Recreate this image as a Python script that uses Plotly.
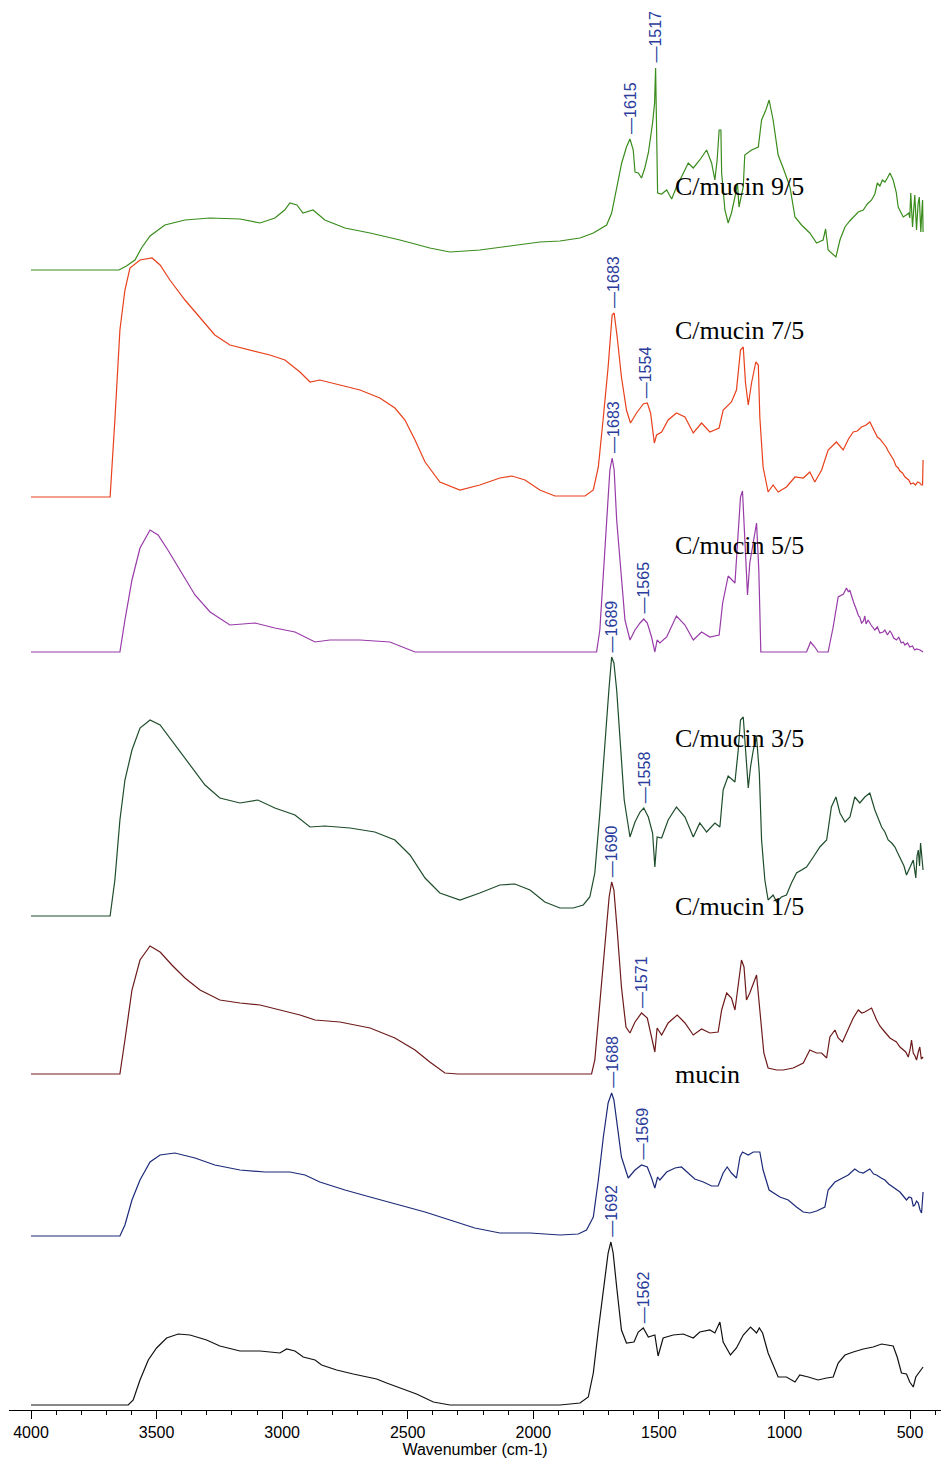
import numpy as np
import plotly.graph_objects as go

# ---------------- data (wavenumber cm-1, relative absorbance height) ----------------
names = ["C/mucin 9/5", "C/mucin 7/5", "C/mucin 5/5", "C/mucin 3/5", "C/mucin 1/5", "mucin", ""]
offsets = [1140, 913, 758, 494, 336, 174, 5]
colors = ["#3a8c1c", "#e8401a", "#983aa8", "#1e4d2b", "#6e1a1a", "#1c2a78", "#111111"]

wn_95 = [4000, 3650, 3620, 3586, 3560, 3526, 3467, 3387, 3287, 3168, 3088, 3029, 2990, 2969, 2941, 2917, 2877, 2830,
         2750, 2650, 2531, 2412, 2332, 2213, 2093, 1974, 1894, 1814, 1761, 1708, 1688, 1668, 1648, 1629, 1615, 1602,
         1595, 1582, 1569, 1556, 1542, 1525, 1517, 1513, 1509, 1505, 1489, 1469, 1449, 1430, 1410, 1383, 1363, 1337,
         1310, 1290, 1277, 1268, 1260, 1253, 1250, 1237, 1224, 1211, 1197, 1187, 1181, 1171, 1164, 1158, 1131, 1104,
         1091, 1074, 1061, 1045, 1025, 1005, 978, 958, 932, 899, 872, 846, 836, 826, 813, 795, 779, 759, 740, 726, 706,
         686, 670, 653, 640, 630, 620, 610, 600, 590, 580, 567, 555, 547, 537, 527, 515, 505, 501, 497, 490, 486, 481,
         474, 468, 463, 457, 452, 450, 448]
h_95 = [0, 0, 4, 10, 22, 34, 45, 50, 52, 51, 47, 52, 60, 67, 65, 57, 60, 50,
        42, 37, 30, 22, 18, 20, 24, 28, 29, 32, 37, 45, 57, 83, 107, 123, 131, 120,
        98, 97, 92, 102, 117, 147, 167, 202, 150, 77, 76, 80, 71, 83, 93, 107, 102, 110,
        120, 107, 90, 110, 140, 140, 97, 60, 47, 57, 73, 87, 63, 73, 83, 115, 120, 123,
        150, 160, 170, 150, 115, 102, 83, 53, 45, 37, 27, 30, 41, 20, 17, 13, 30, 43, 49, 53, 58,
        60, 66, 70, 76, 87, 84, 90, 88, 92, 97, 90, 78, 63, 58, 53, 55, 57, 52, 77, 43, 60, 75,
        40, 66, 73, 38, 62, 70, 38]

wn_75 = [4000, 3685, 3666, 3646, 3626, 3606, 3566, 3518, 3486, 3447, 3387, 3327, 3268, 3208, 3128, 3049, 2989, 2929,
         2889, 2850, 2770, 2690, 2611, 2551, 2511, 2471, 2431, 2372, 2292, 2213, 2133, 2085, 2033, 1974, 1914, 1894,
         1794, 1761, 1741, 1721, 1702, 1686, 1678, 1666, 1649, 1629, 1613, 1589, 1562, 1546, 1533, 1518, 1509, 1489,
         1463, 1430, 1396, 1363, 1330, 1297, 1260, 1244, 1211, 1191, 1175, 1164, 1155, 1144, 1131, 1114, 1104, 1098,
         1085, 1065, 1045, 1025, 992, 958, 925, 899, 879, 852, 826, 793, 766, 745, 726, 710, 693, 675, 660, 650, 640,
         630, 620, 607, 595, 587, 574, 565, 556, 547, 540, 530, 520, 514, 505, 497, 487, 478, 470, 461, 455, 450, 448]
h_75 = [0, 0, 77, 167, 207, 229, 237, 239, 232, 217, 197, 179, 162, 152, 147, 142, 137, 125,
        115, 117, 112, 107, 99, 89, 77, 57, 35, 15, 7, 12, 19, 21, 17, 7, 1, 1,
        1, 7, 30, 80, 130, 182, 184, 160, 120, 87, 74, 84, 93, 94, 84, 54, 62, 65,
        77, 84, 80, 64, 74, 65, 69, 87, 95, 107, 147, 150, 114, 92, 114, 135, 132, 80,
        30, 5, 12, 5, 10, 20, 19, 25, 15, 27, 47, 55, 47, 58, 65, 66, 70, 72, 75, 70, 65,
        60, 58, 54, 50, 46, 40, 37, 31, 29, 26, 24, 20, 19, 17, 13, 14, 12, 15, 14, 12, 12, 37]

wn_55 = [4000, 3646, 3626, 3598, 3566, 3526, 3494, 3455, 3407, 3347, 3287, 3208, 3108, 3029, 2949, 2869, 2810, 2690,
         2571, 2471, 1894, 1748, 1735, 1715, 1702, 1695, 1686, 1678, 1668, 1652, 1635, 1615, 1595, 1575, 1560, 1546,
         1529, 1516, 1507, 1496, 1469, 1430, 1396, 1363, 1330, 1297, 1260, 1246, 1224, 1197, 1184, 1175, 1167, 1158,
         1147, 1138, 1124, 1111, 1102, 1094, 912, 896, 879, 866, 826, 806, 786, 765, 753, 745, 740, 733, 725, 713,
         705, 700, 693, 685, 680, 675, 667, 655, 640, 630, 620, 607, 600, 590, 580, 574, 565, 554, 545, 535, 527, 520,
         510, 501, 490, 482, 474, 460, 448]
h_55 = [0, 0, 32, 72, 104, 122, 117, 102, 82, 57, 40, 27, 29, 24, 20, 10, 12, 12,
        10, 0, 0, 0, 22, 99, 155, 182, 194, 182, 132, 82, 32, 12, 22, 29, 33, 29,
        15, 0, 12, 9, 15, 36, 27, 12, 20, 15, 17, 49, 76, 69, 115, 155, 161, 115,
        57, 89, 109, 129, 82, 0, 0, 10, 5, 0, 0, 25, 55, 58, 64, 60, 62, 55, 50, 42,
        36, 35, 29, 31, 36, 28, 32, 27, 22, 25, 19, 20, 22, 17, 21, 19, 14, 12, 15, 9, 10, 7,
        9, 5, 6, 2, 3, 2, 0]

wn_35 = [4000, 3685, 3666, 3646, 3626, 3598, 3566, 3526, 3486, 3427, 3367, 3307, 3248, 3168, 3097, 3029, 2949, 2889,
         2830, 2730, 2631, 2551, 2491, 2431, 2372, 2292, 2213, 2133, 2073, 2013, 1954, 1894, 1841, 1801, 1775, 1755,
         1735, 1715, 1699, 1688, 1679, 1668, 1655, 1638, 1615, 1595, 1575, 1560, 1542, 1525, 1516, 1507, 1489, 1463,
         1430, 1396, 1363, 1337, 1310, 1277, 1257, 1244, 1224, 1197, 1184, 1175, 1164, 1155, 1144, 1135, 1124, 1111,
         1100, 1091, 1078, 1065, 1045, 1031, 1012, 992, 972, 952, 912, 885, 859, 832, 813, 795, 779, 759, 739, 720,
         700, 680, 660, 640, 625, 613, 600, 587, 573, 560, 547, 534, 524, 514, 501, 487, 477, 472, 467, 462, 458, 452, 448]
h_35 = [0, 0, 36, 96, 136, 166, 188, 196, 191, 171, 151, 131, 118, 113, 116, 108, 101, 89,
        90, 88, 84, 76, 61, 38, 23, 16, 23, 31, 32, 26, 14, 8, 8, 11, 19, 43,
        103, 176, 226, 259, 253, 226, 176, 116, 79, 94, 104, 108, 99, 83, 49, 79, 78, 96,
        109, 99, 79, 93, 84, 93, 89, 126, 140, 134, 166, 196, 199, 169, 128, 149, 166, 179,
        143, 76, 36, 16, 21, 14, 19, 21, 33, 43, 49, 59, 69, 76, 109, 119, 103, 94, 99, 119,
        113, 119, 123, 106, 97, 89, 84, 76, 73, 69, 62, 56, 50, 41, 49, 56, 38, 60, 66, 50, 73, 55, 46]

wn_15 = [4000, 3646, 3626, 3598, 3566, 3526, 3486, 3439, 3387, 3327, 3248, 3168, 3088, 3009, 2929, 2869, 2770, 2650,
         2551, 2471, 2412, 2352, 2300, 1894, 1768, 1755, 1735, 1715, 1698, 1688, 1679, 1666, 1649, 1631, 1615, 1595,
         1569, 1546, 1529, 1516, 1507, 1489, 1463, 1427, 1396, 1363, 1330, 1297, 1264, 1250, 1230, 1211, 1197, 1184,
         1171, 1161, 1151, 1138, 1124, 1111, 1098, 1082, 1065, 1031, 1005, 965, 925, 899, 872, 852, 832, 819, 799,
         786, 769, 753, 726, 706, 692, 680, 667, 653, 633, 620, 607, 593, 580, 567, 554, 540, 527, 517, 507, 500, 494,
         487, 480, 474, 467, 461, 455, 448]
h_15 = [0, 0, 34, 84, 114, 128, 122, 109, 96, 84, 74, 71, 69, 64, 59, 54, 52, 46,
        36, 24, 12, 1, 0, 0, 0, 14, 71, 131, 177, 192, 184, 144, 87, 47, 41, 52,
        61, 56, 37, 22, 46, 39, 51, 59, 51, 39, 45, 41, 42, 64, 81, 76, 64, 91,
        114, 107, 74, 81, 91, 99, 64, 21, 6, 4, 4, 6, 11, 24, 21, 21, 16, 37, 44,
        36, 32, 41, 56, 64, 61, 62, 64, 66, 54, 48, 44, 40, 36, 34, 32, 27, 24, 22, 17, 24, 34,
        21, 18, 14, 22, 27, 15, 17]

wn_mu = [4000, 3646, 3626, 3598, 3566, 3526, 3486, 3427, 3347, 3268, 3168, 3068, 2969, 2909, 2850, 2750, 2650, 2531,
         2431, 2332, 2233, 2133, 2013, 1894, 1821, 1788, 1761, 1741, 1721, 1702, 1688, 1679, 1666, 1649, 1622, 1595,
         1569, 1546, 1529, 1516, 1505, 1496, 1469, 1436, 1410, 1383, 1357, 1323, 1290, 1264, 1244, 1228, 1211, 1191,
         1177, 1167, 1144, 1124, 1098, 1085, 1061, 1018, 985, 952, 925, 899, 872, 839, 826, 799, 766, 746, 720, 703,
         686, 673, 660, 645, 633, 615, 600, 585, 567, 553, 540, 527, 514, 504, 494, 487, 481, 474, 467, 460, 454, 448]
h_mu = [0, 0, 11, 36, 56, 74, 81, 83, 78, 71, 66, 64, 64, 61, 54, 46, 39, 31,
        24, 16, 8, 3, 3, 1, 2, 6, 19, 56, 99, 133, 143, 136, 113, 79, 58, 66,
        71, 69, 58, 48, 59, 56, 64, 68, 69, 63, 57, 54, 50, 50, 63, 69, 63, 58,
        79, 84, 81, 84, 84, 66, 46, 39, 36, 29, 24, 23, 25, 29, 46, 54, 58, 61, 67, 64,
        63, 65, 67, 62, 61, 58, 56, 52, 49, 46, 44, 40, 36, 39, 38, 30, 31, 35, 33, 26, 23, 44]

wn_c = [4000, 3613, 3593, 3566, 3533, 3500, 3460, 3414, 3367, 3301, 3248, 3168, 3088, 3009, 2982, 2949, 2916, 2869,
        2843, 2783, 2717, 2624, 2584, 2531, 2465, 2398, 2332, 1894, 1814, 1781, 1761, 1741, 1721, 1702, 1691, 1682,
        1668, 1649, 1629, 1599, 1582, 1562, 1542, 1516, 1503, 1483, 1443, 1403, 1363, 1337, 1297, 1277, 1257, 1244,
        1215, 1191, 1164, 1135, 1111, 1100, 1087, 1065, 1025, 992, 958, 939, 905, 866, 832, 806, 786, 759, 726, 686,
        647, 613, 567, 551, 534, 514, 501, 487, 477, 461, 448]
h_c = [0, 0, 5, 25, 45, 57, 67, 71, 70, 65, 59, 54, 54, 52, 56, 54, 48, 45,
       40, 35, 31, 26, 22, 17, 11, 3, 0, 0, 2, 8, 32, 75, 115, 152, 163, 152,
       118, 75, 62, 63, 73, 77, 68, 70, 49, 67, 70, 71, 67, 73, 75, 72, 83, 63,
       50, 57, 70, 78, 72, 77, 72, 52, 28, 28, 23, 30, 28, 25, 27, 28, 42, 50, 53, 56,
       58, 61, 59, 48, 32, 31, 23, 18, 28, 33, 38]

wavenumbers = [wn_95, wn_75, wn_55, wn_35, wn_15, wn_mu, wn_c]
heights = [h_95, h_75, h_55, h_35, h_15, h_mu, h_c]
peak_labels = [[1615, 1517], [1683, 1554], [1683, 1565], [1689, 1558], [1690, 1571], [1688, 1569], [1692, 1562]]

# ---------------- figure ----------------
fig = go.Figure()
for wn, h, off, col in zip(wavenumbers, heights, offsets, colors):
    fig.add_trace(go.Scatter(x=wn, y=np.array(h) + off, mode="lines",
                             line=dict(color=col, width=1.2), hoverinfo="skip"))

label_y_px = [186, 330, 545, 738, 906, 1074]
annotations = []
for name, ypx in zip(names, label_y_px + [None]):
    if not name:
        continue
    annotations.append(dict(x=1442, y=1410 - ypx, xref="x", yref="y", text=name, showarrow=False,
                            xanchor="left", yanchor="middle",
                            font=dict(family="Liberation Serif", size=26, color="black")))

for wn, h, off, peaks in zip(wavenumbers, heights, offsets, peak_labels):
    wa = np.array(wn)
    ha = np.array(h)
    for p in peaks:
        m = np.abs(wa - p) <= 10
        top = ha[m].max() + off
        annotations.append(dict(x=p, y=top + 3, xref="x", yref="y", text="\u2014" + str(p), showarrow=False,
                                textangle=-90, xanchor="center", yanchor="bottom",
                                font=dict(family="Liberation Sans", size=16, color="#2a3c9c")))

fig.update_layout(
    width=941, height=1459,
    margin=dict(l=9, r=0, t=0, b=49),
    plot_bgcolor="white", paper_bgcolor="white",
    showlegend=False,
    annotations=annotations,
    xaxis=dict(range=[4087.6, 376.6], showgrid=False, zeroline=False,
               showline=True, linecolor="black", linewidth=1,
               ticks="outside", ticklen=8, tickwidth=1, tickcolor="black",
               tick0=500, dtick=500,
               minor=dict(dtick=100, ticks="outside", ticklen=4, tickcolor="black", showgrid=False),
               tickfont=dict(family="Liberation Sans", size=16, color="black"),
               title=dict(text="Wavenumber (cm-1)", standoff=1,
                          font=dict(family="Liberation Sans", size=16, color="black"))),
    yaxis=dict(range=[0, 1410], visible=False),
)

fig.write_html("out.html")
